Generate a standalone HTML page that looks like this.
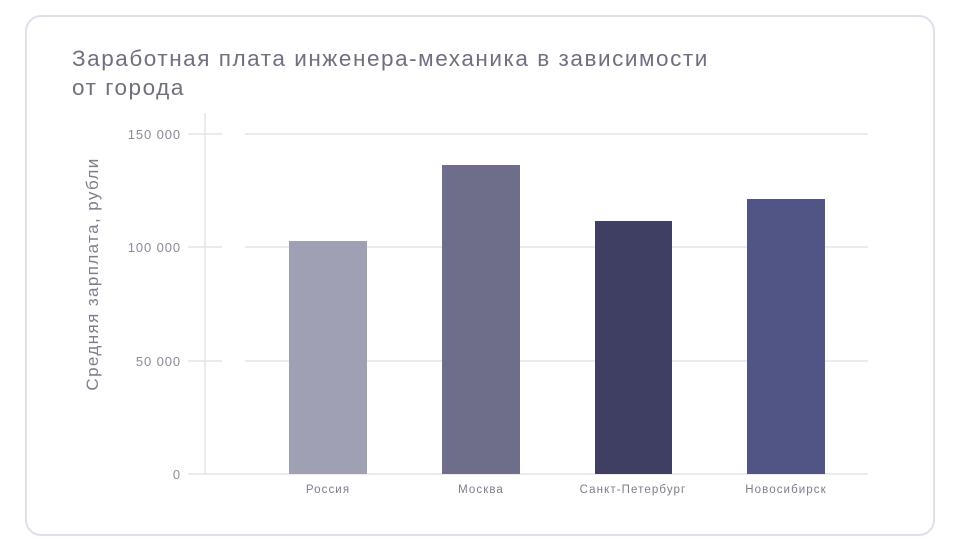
<!DOCTYPE html>
<html><head><meta charset="utf-8"><style>
body{margin:0;width:961px;height:550px;background:#fff;overflow:hidden;font-family:"Liberation Sans","DejaVu Sans",sans-serif}
.card{position:absolute;left:25px;top:15px;width:910px;height:521px;border:2px solid #e0dfec;border-radius:16px;box-sizing:border-box}
.t{position:absolute;left:72px;top:44px;font-size:22.5px;line-height:29px;color:#6f6f82;letter-spacing:1.55px}
</style></head><body>
<div class="card"></div>
<div class="t">Заработная плата инженера-механика в зависимости<br>от города</div>
<svg width="961" height="550" style="position:absolute;left:0;top:0" font-family="Liberation Sans, DejaVu Sans, sans-serif">
<g stroke="#e3e3ea" stroke-width="1.5">
<line x1="188" y1="134" x2="222" y2="134"/><line x1="245" y1="134" x2="868" y2="134"/>
<line x1="188" y1="247" x2="222" y2="247"/><line x1="245" y1="247" x2="868" y2="247"/>
<line x1="188" y1="361" x2="222" y2="361"/><line x1="245" y1="361" x2="868" y2="361"/>
<line x1="188" y1="474" x2="868" y2="474"/>
<line x1="205" y1="113" x2="205" y2="474"/>
</g>
<g font-size="13" fill="#8a8a99" text-anchor="end" letter-spacing="0.9">
<text x="181" y="139">150 000</text><text x="181" y="252">100 000</text>
<text x="181" y="366">50 000</text><text x="181" y="479">0</text>
</g>
<text transform="translate(98,274) rotate(-90)" text-anchor="middle" font-size="17" fill="#7d7d90" letter-spacing="1.4">Средняя зарплата, рубли</text>
<rect x="289" y="241" width="78" height="233" fill="#a0a0b4"/>
<rect x="442" y="165" width="78" height="309" fill="#6e6e8a"/>
<rect x="595" y="221" width="77" height="253" fill="#3e3f63"/>
<rect x="747" y="199" width="78" height="275" fill="#505586"/>
<g font-size="11.5" fill="#7d7d8c" text-anchor="middle" letter-spacing="1.1">
<text x="328" y="493">Россия</text><text x="481" y="493">Москва</text>
<text x="633" y="493">Санкт-Петербург</text><text x="786" y="493">Новосибирск</text>
</g>
</svg>
</body></html>
